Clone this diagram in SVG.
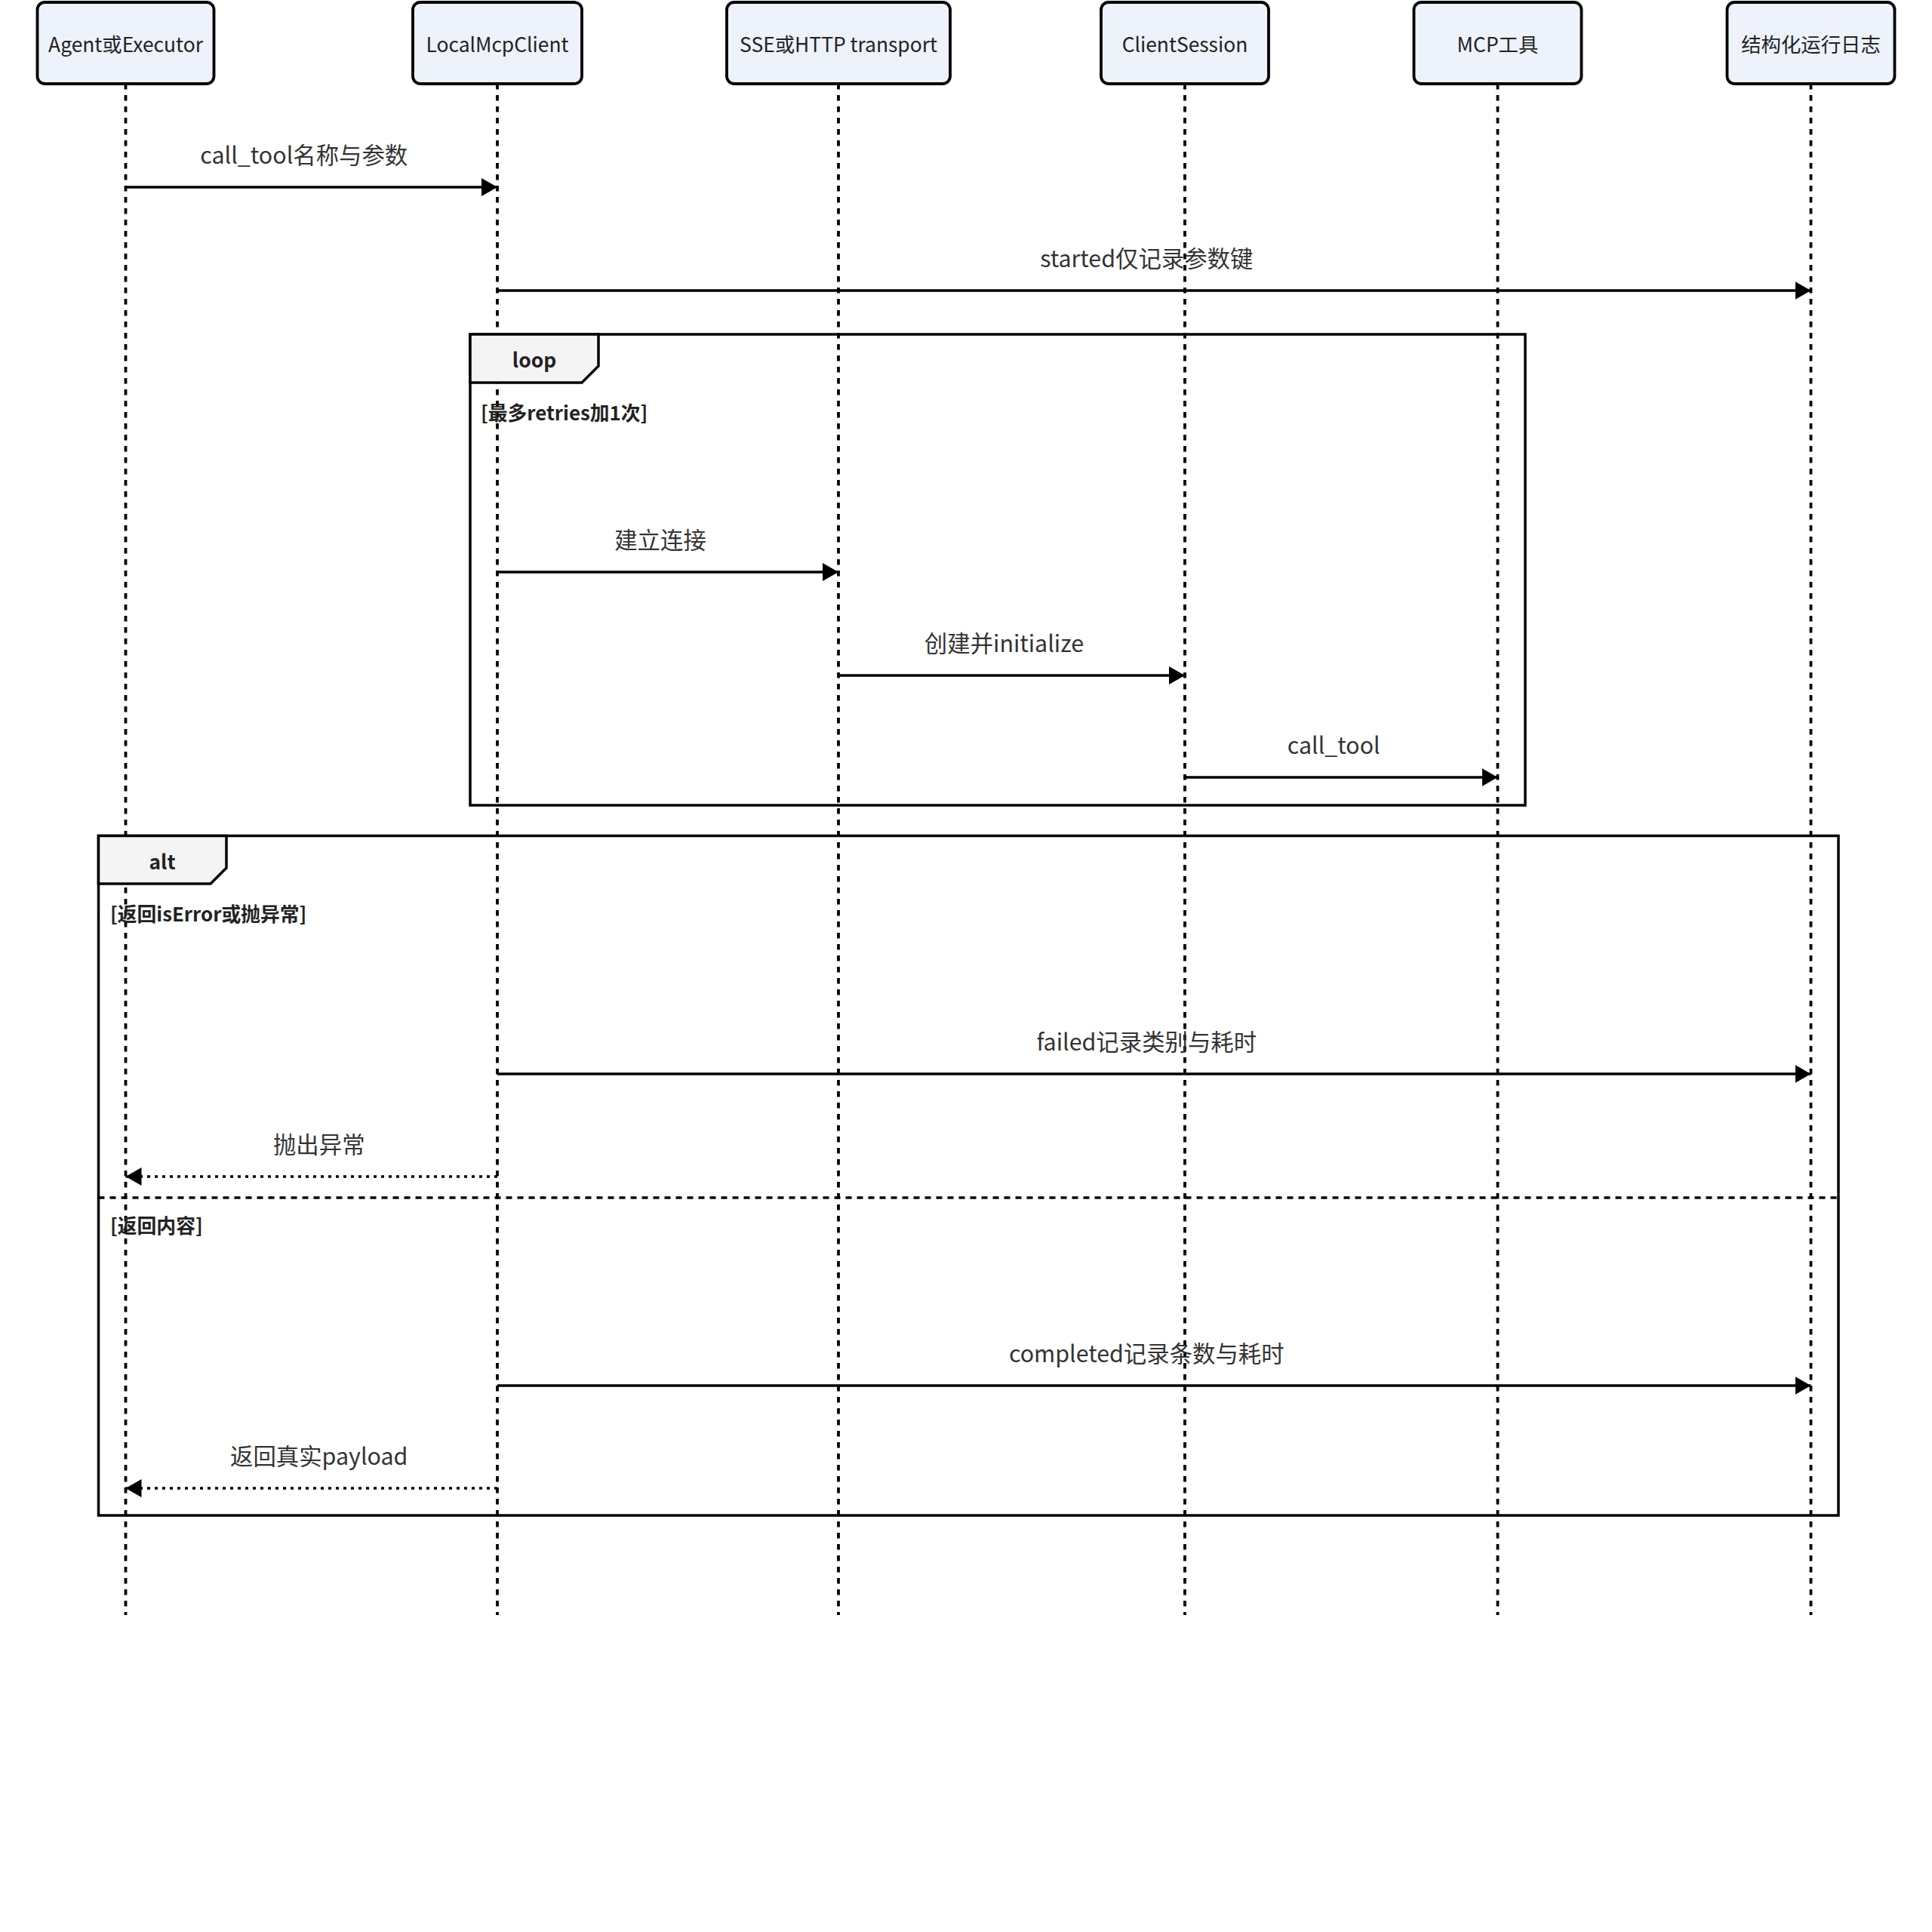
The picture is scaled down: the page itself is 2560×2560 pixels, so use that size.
<svg xmlns="http://www.w3.org/2000/svg" width="2560" height="2560" viewBox="0 0 2560 2560">
<style>
text{font-family:"Noto Sans CJK SC","Noto Sans",sans-serif;}
.actor{fill:#eef2fb;stroke:#000;stroke-width:3.8;}
.atext{font-size:26.4px;fill:#222;text-anchor:middle;dominant-baseline:central;}
.life{stroke:#000;stroke-width:3.8;stroke-dasharray:7.5 7.5;fill:none;}
.msg{stroke:#000;stroke-width:3.5;fill:none;marker-end:url(#arrow);}
.dot{stroke-dasharray:4 6;}
.mtext{font-size:30.4px;fill:#333;text-anchor:middle;}
.frame{fill:none;stroke:#000;stroke-width:3.5;}
.tab{fill:#f4f4f4;stroke:#000;stroke-width:3.5;}
.ftext{font-size:26.4px;font-weight:bold;fill:#222;text-anchor:middle;}
.ctext{font-size:25.8px;font-weight:bold;fill:#222;}
.divider{stroke:#000;stroke-width:3.5;stroke-dasharray:8 7;}
</style>
<defs>
<marker id="arrow" markerUnits="userSpaceOnUse" markerWidth="22" markerHeight="24" refX="21" refY="12" orient="auto">
<path d="M0,0 L21,12 L0,24 Z" fill="#000"/>
</marker>
</defs>
<rect width="2560" height="2560" fill="#fff"/>
<g id="lifelines">
<line class="life" x1="166.5" y1="111" x2="166.5" y2="2140"/>
<line class="life" x1="659" y1="111" x2="659" y2="2140"/>
<line class="life" x1="1111" y1="111" x2="1111" y2="2140"/>
<line class="life" x1="1570" y1="111" x2="1570" y2="2140"/>
<line class="life" x1="1984.5" y1="111" x2="1984.5" y2="2140"/>
<line class="life" x1="2399.5" y1="111" x2="2399.5" y2="2140"/>
</g>
<g id="actor-agent"><rect class="actor" x="49.5" y="3" width="234" height="108" rx="10"/><text class="atext" x="166.5" y="57">Agent或Executor</text></g>
<g id="actor-local"><rect class="actor" x="547" y="3" width="224" height="108" rx="10"/><text class="atext" x="659" y="57">LocalMcpClient</text></g>
<g id="actor-transport"><rect class="actor" x="963" y="3" width="296" height="108" rx="10"/><text class="atext" x="1111" y="57">SSE或HTTP transport</text></g>
<g id="actor-session"><rect class="actor" x="1459" y="3" width="222" height="108" rx="10"/><text class="atext" x="1570" y="57">ClientSession</text></g>
<g id="actor-tool"><rect class="actor" x="1873.5" y="3" width="222" height="108" rx="10"/><text class="atext" x="1984.5" y="57">MCP工具</text></g>
<g id="actor-log"><rect class="actor" x="2288.5" y="3" width="222" height="108" rx="10"/><text class="atext" x="2399.5" y="57">结构化运行日志</text></g>
<g id="loop-frame">
<rect class="frame" x="623" y="443" width="1398" height="624"/>
<path class="tab" d="M623,443 H793 V485 L771,507 H623 Z"/>
<text class="ftext" x="708" y="487">loop</text>
<text class="ctext" x="637" y="557">[最多retries加1次]</text>
</g>
<g id="alt-frame">
<rect class="frame" x="130.5" y="1107.5" width="2305.5" height="900.5"/>
<path class="tab" d="M130.5,1107.5 H300 V1150 L279,1171 H130.5 Z"/>
<text class="ftext" x="215" y="1152">alt</text>
<text class="ctext" x="146" y="1221">[返回isError或抛异常]</text>
<line class="divider" x1="130.5" y1="1587" x2="2436" y2="1587"/>
<text class="ctext" x="146" y="1634">[返回内容]</text>
</g>
<g id="connectors">
<line class="msg" x1="166.5" y1="248" x2="659" y2="248"/>
<text class="mtext" x="402.75" y="217">call_tool名称与参数</text>
<line class="msg" x1="659" y1="385" x2="2399.5" y2="385"/>
<text class="mtext" x="1519.25" y="354">started仅记录参数键</text>
<line class="msg" x1="659" y1="758" x2="1111" y2="758"/>
<text class="mtext" x="875" y="727">建立连接</text>
<line class="msg" x1="1111" y1="895" x2="1570" y2="895"/>
<text class="mtext" x="1330.5" y="864">创建并initialize</text>
<line class="msg" x1="1570" y1="1030" x2="1984.5" y2="1030"/>
<text class="mtext" x="1767.25" y="999">call_tool</text>
<line class="msg" x1="659" y1="1423" x2="2399.5" y2="1423"/>
<text class="mtext" x="1519.25" y="1392">failed记录类别与耗时</text>
<line class="msg dot" x1="659" y1="1559" x2="166.5" y2="1559"/>
<text class="mtext" x="422.75" y="1528">抛出异常</text>
<line class="msg" x1="659" y1="1836" x2="2399.5" y2="1836"/>
<text class="mtext" x="1519.25" y="1805">completed记录条数与耗时</text>
<line class="msg dot" x1="659" y1="1972" x2="166.5" y2="1972"/>
<text class="mtext" x="422.75" y="1941">返回真实payload</text>
</g>
</svg>
